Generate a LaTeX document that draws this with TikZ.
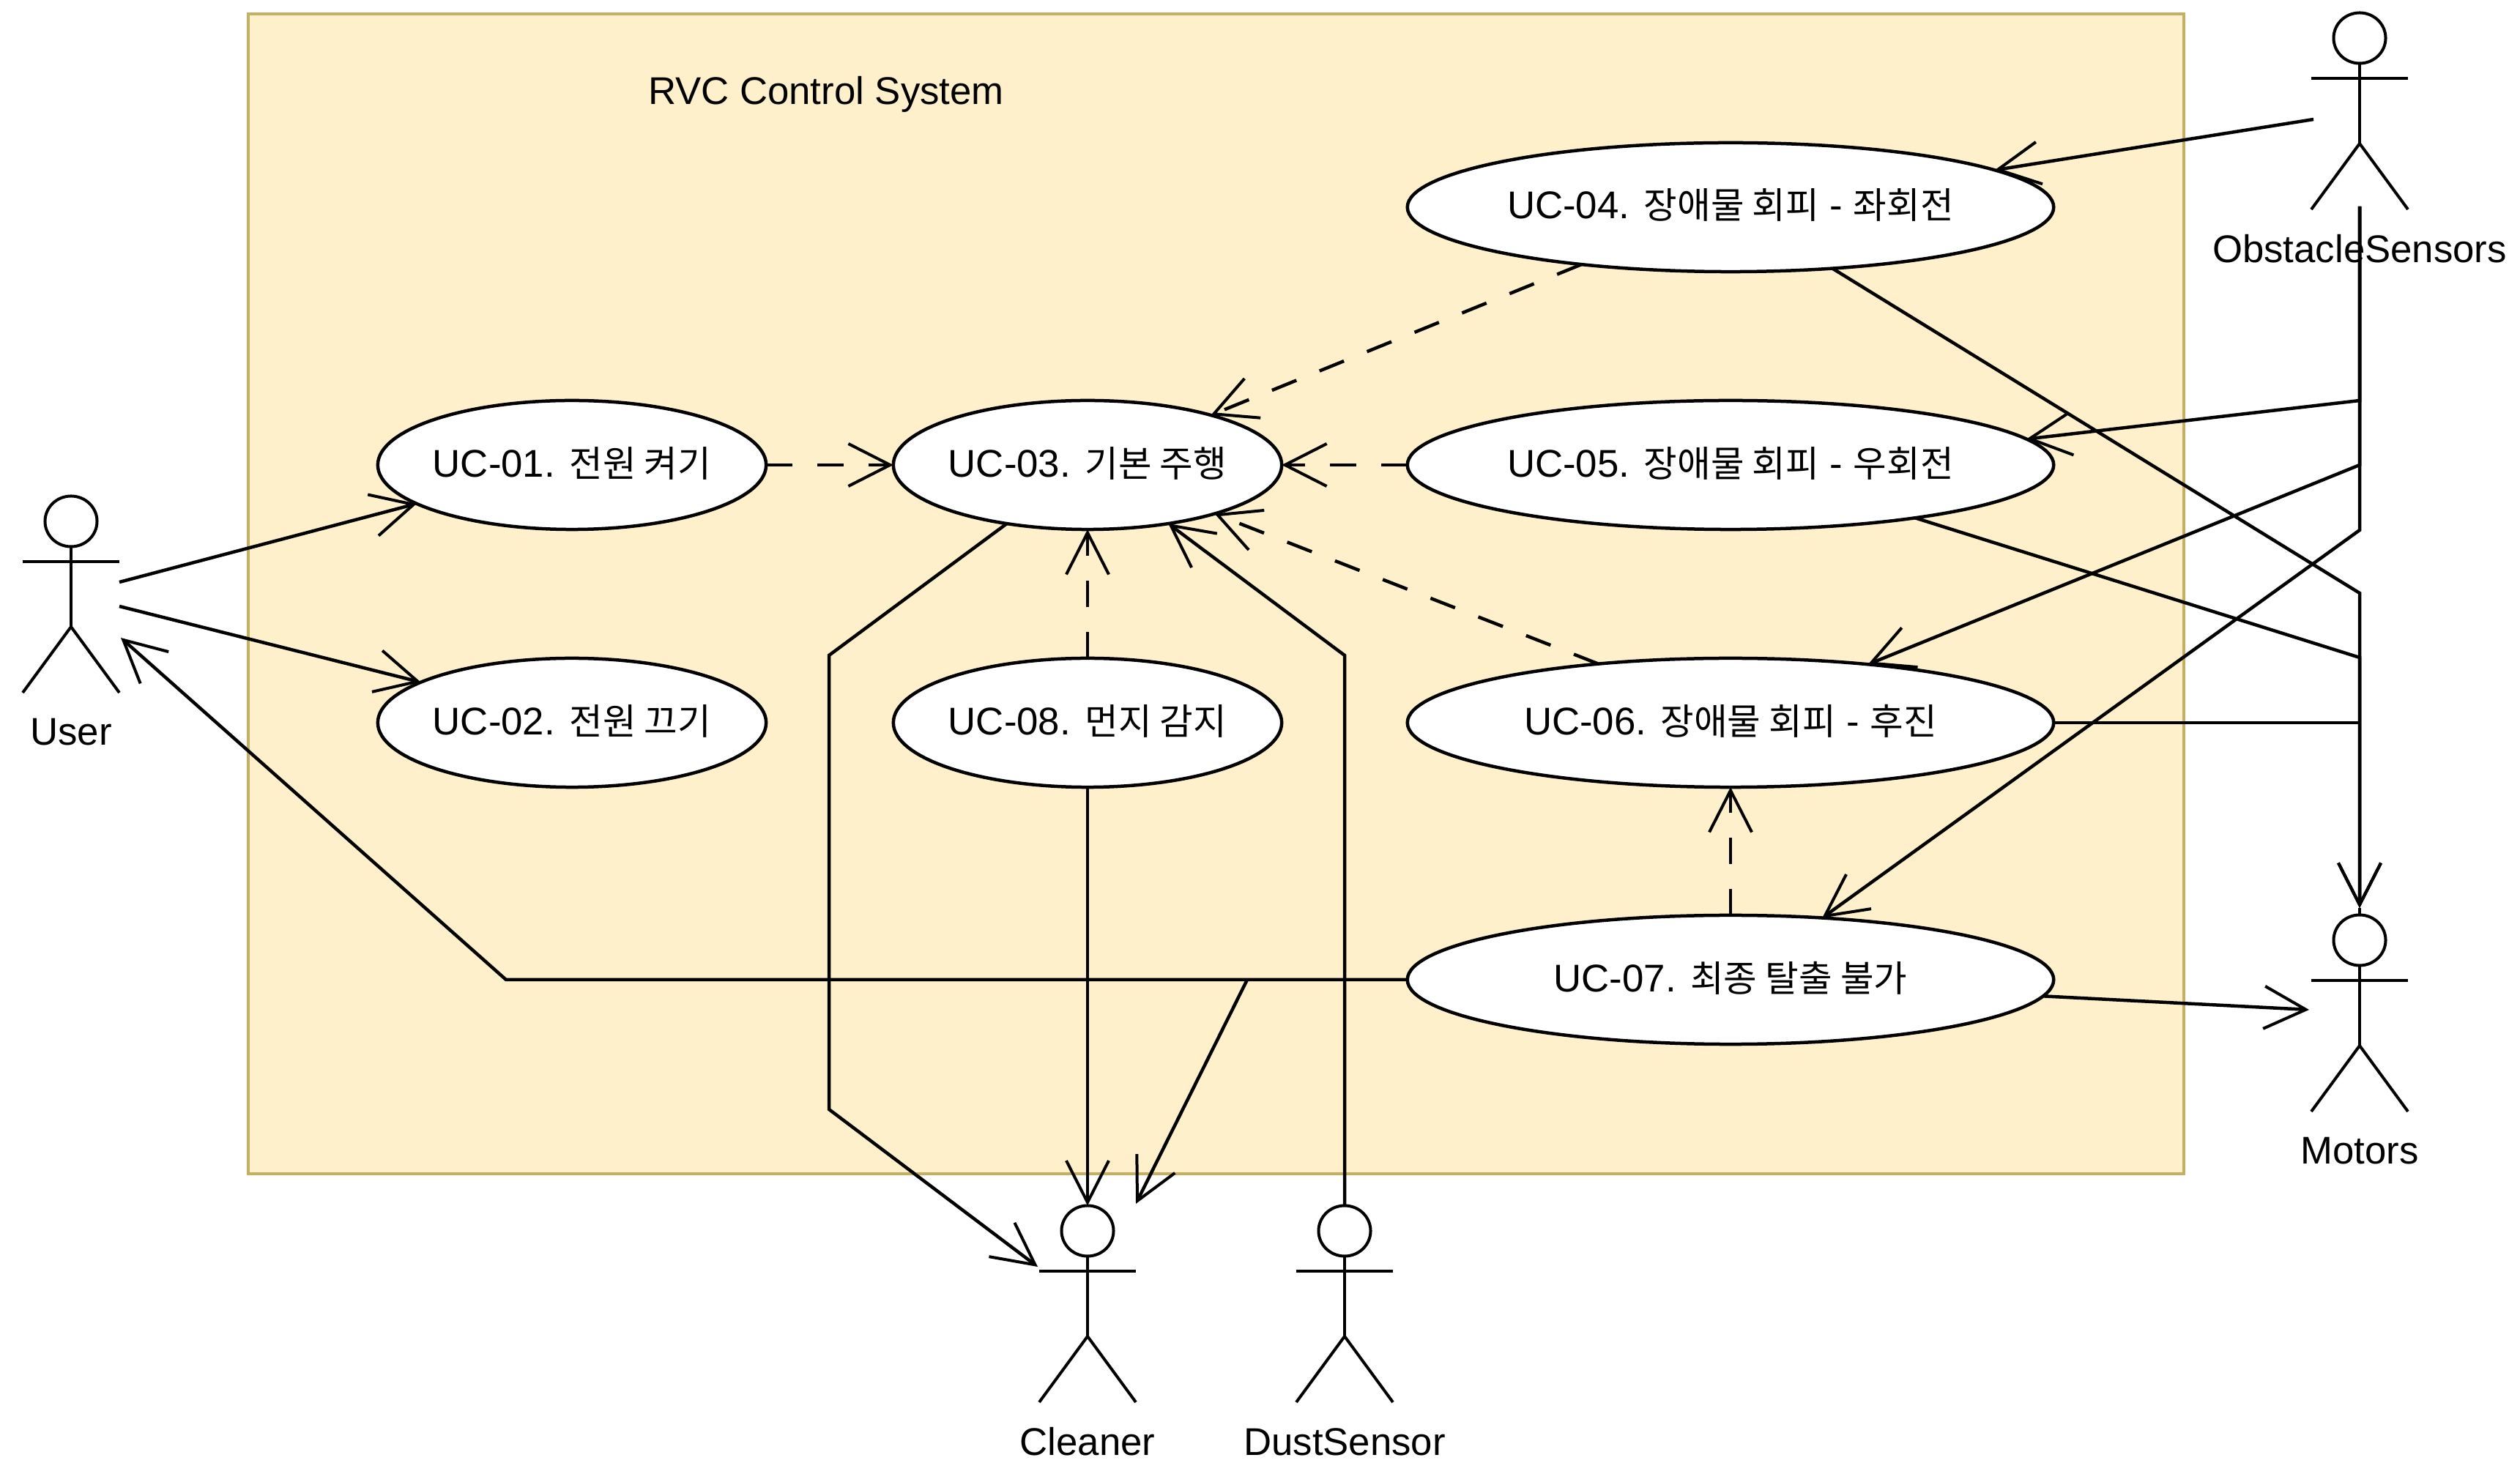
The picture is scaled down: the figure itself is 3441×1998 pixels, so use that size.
\documentclass[tikz,border=0pt]{standalone}
\usepackage{fontspec}
\setmainfont{Liberation Sans}
\newfontfamily\krfont[Scale=0.94]{Noto Sans CJK KR}
\usetikzlibrary{arrows.meta,shapes.geometric}
\definecolor{boxfill}{HTML}{FFF0CC}
\definecolor{boxline}{HTML}{C8AE60}
\newcommand{\kr}[1]{{\krfont #1}}
\newcommand{\uctext}[1]{\raisebox{-0.16cm}[0pt][0pt]{\makebox[0pt]{#1}}}
\tikzset{
  x=0.01cm,y=-0.01cm,
  every node/.style={font=\fontsize{15}{18}\selectfont},
  wire/.style={line width=0.045cm,black,line join=miter},
  assoc/.style={wire,-{Straight Barb[length=0.57cm,width=0.58cm,line width=0.04cm]}},
  dep/.style={assoc,dash pattern=on 0.36cm off 0.34cm},
  usecase/.style={ellipse,draw,line width=0.045cm,fill=white,inner sep=0pt,outer sep=0pt,
    minimum width=5.3cm,minimum height=1.76cm,text=black},
  widecase/.style={usecase,minimum width=8.82cm},
  limb/.style={line width=0.04cm,black},
  head/.style={ellipse,draw,line width=0.04cm,fill=none,inner sep=0pt,outer sep=0pt,minimum width=0.71cm,minimum height=0.69cm},
  pics/actor/.style args={#1/#2}{code={
    \node[head] (#1head) at (0,34) {};
    \draw[limb] (#1head.south) -- (0,178);
    \draw[limb] (-66,89) -- (66,89);
    \draw[limb] (-66,268) -- (0,178) -- (66,268);
    \node (#1label) at (0,322) {#2};
  }},
}
\begin{document}
\begin{tikzpicture}
\useasboundingbox (0,0) rectangle (3441,1998);
\fill[white] (0,0) rectangle (3441,1998);
\node[draw=boxline,fill=boxfill,line width=0.04cm,inner sep=0pt,outer sep=0pt,minimum width=26.41cm,minimum height=15.83cm,anchor=north west] (system) at (339,19) {};
\node (title) at (1128,129) {RVC Control System};

\node[usecase] (uc1) at (781,635) {\uctext{UC-01. \kr{전원 켜기}}};
\node[usecase] (uc2) at (781,987) {\uctext{UC-02. \kr{전원 끄기}}};
\node[usecase] (uc3) at (1485,635) {\uctext{UC-03. \kr{기본 주행}}};
\node[usecase] (uc8) at (1485,987) {\uctext{UC-08. \kr{먼지 감지}}};
\node[widecase] (uc4) at (2363,283) {\uctext{UC-04. \kr{장애물 회피} - \kr{좌회전}}};
\node[widecase] (uc5) at (2363,635) {\uctext{UC-05. \kr{장애물 회피} - \kr{우회전}}};
\node[widecase] (uc6) at (2363,987) {\uctext{UC-06. \kr{장애물 회피} - \kr{후진}}};
\node[widecase] (uc7) at (2363,1338) {\uctext{UC-07. \kr{최종 탈출 불가}}};

\pic at (97,678) {actor={user/User}};
\pic at (1485,1647) {actor={cleaner/Cleaner}};
\pic at (1836,1647) {actor={dust/DustSensor}};
\pic at (3222,18) {actor={obst/ObstacleSensors}};
\pic at (3222,1250) {actor={motor/Motors}};

\coordinate (userout1) at (163,795);
\coordinate (userout2) at (163,828);
\coordinate (userin) at (165,871);
\coordinate (userbend) at (691,1338);
\coordinate (cleanbranch) at (1703,1338);
\coordinate (cleanin) at (1551,1644);
\coordinate (cleanarm) at (1417,1730);
\coordinate (bendA) at (1132,895);
\coordinate (bendB) at (1132,1515);
\coordinate (dustbend) at (1836,895);
\coordinate (obstout) at (3159,163);
\coordinate (obstfoot) at (3222,282);
\coordinate (obst5) at (3222,547);
\coordinate (obst6) at (3222,635);
\coordinate (obst7) at (3222,724);
\coordinate (mot4) at (3222,810);
\coordinate (mot5) at (3222,898);
\coordinate (mot6) at (3222,987);
\coordinate (motortip) at (3222,1240);
\coordinate (motarm) at (3153,1379);

\draw[assoc] (userout1) -- (uc1.194);
\draw[assoc] (userout2) -- (uc2.165);
\draw[assoc] (uc7.west) -- (userbend) -- (userin);
\draw[assoc] (cleanbranch) -- (cleanin);
\draw[assoc] (uc3.216) -- (bendA) -- (bendB) -- (cleanarm);
\draw[assoc] (uc8.south) -- (cleanerhead.north);
\draw[assoc] (dusthead.north) -- (dustbend) -- (uc3.-36);

\draw[dep] (uc1.east) -- (uc3.west);
\draw[dep] (uc5.west) -- (uc3.east);
\draw[dep] (uc4.201) -- (uc3.22);
\draw[dep] (uc6.156) -- (uc3.-21);
\draw[dep] (uc8.north) -- (uc3.south);
\draw[dep] (uc7.north) -- (uc6.south);

\draw[assoc] (obstout) -- (uc4.8);
\draw[assoc] (obstfoot) -- (obst5) -- (uc5.5.5);
\draw[assoc] (obstfoot) -- (obst6) -- (uc6.23);
\draw[assoc] (obstfoot) -- (obst7) -- (uc7.34);
\draw[assoc] (uc4.-31) -- (mot4) -- (motortip);
\draw[assoc] (uc5.-16) -- (mot5) -- (motortip);
\draw[assoc] (uc6.east) -- (mot6) -- (motortip);
\draw[wire] (motortip) -- (motorhead.north);
\draw[assoc] (uc7.-3) -- (motarm);
\end{tikzpicture}
\end{document}
